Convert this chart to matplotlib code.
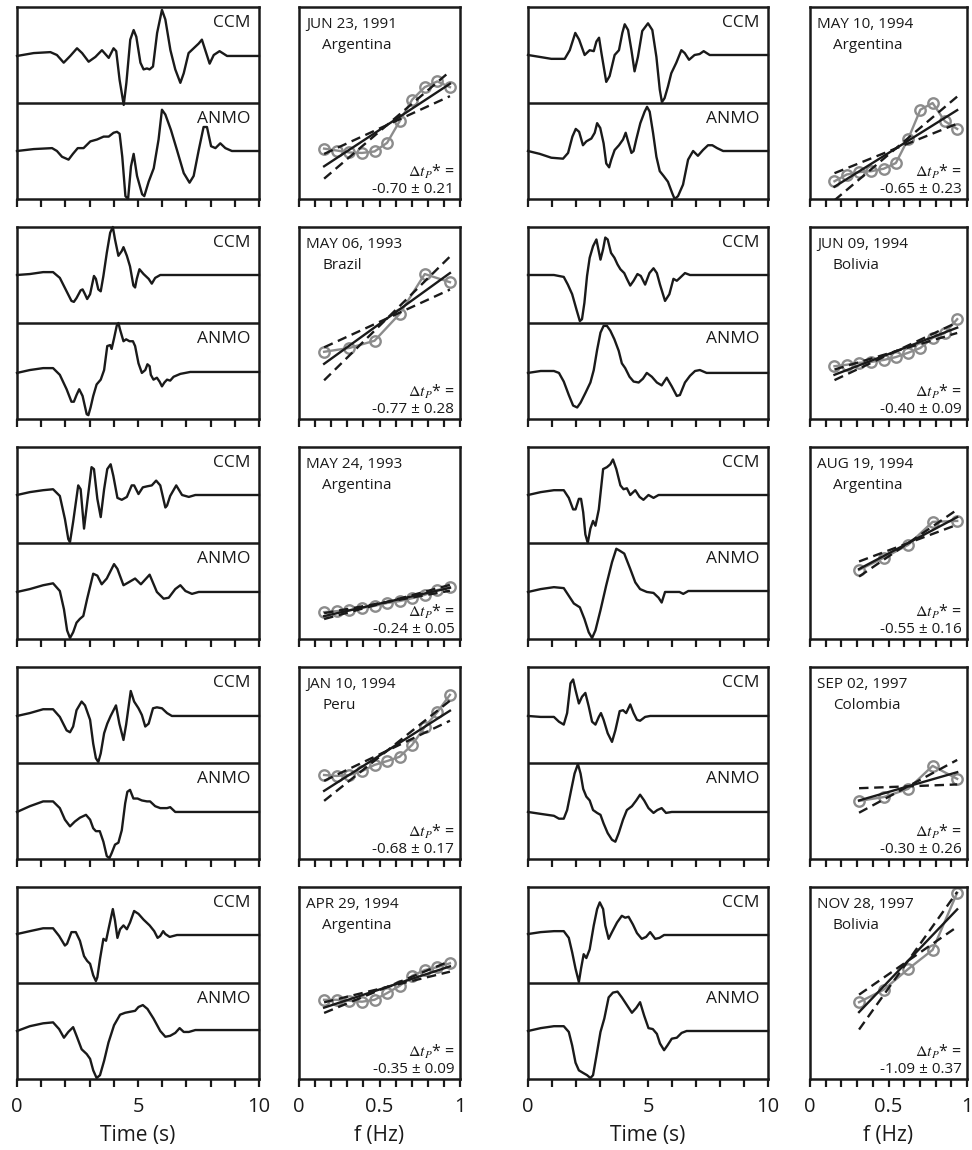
import matplotlib
matplotlib.use('Agg')
import matplotlib.pyplot as plt
import numpy as np

plt.rcParams['font.family'] = ['Open Sans', 'DejaVu Sans']
plt.rcParams['mathtext.fontset'] = 'stix'

# ---- event labels (left column top->bottom, then right column) ----
dates = ['JUN 23, 1991', 'MAY 06, 1993', 'MAY 24, 1993', 'JAN 10, 1994', 'APR 29, 1994',
         'MAY 10, 1994', 'JUN 09, 1994', 'AUG 19, 1994', 'SEP 02, 1997', 'NOV 28, 1997']
regions = ['Argentina', 'Brazil', 'Argentina', 'Peru', 'Argentina',
           'Argentina', 'Bolivia', 'Argentina', 'Colombia', 'Bolivia']
dtp = [-0.70, -0.77, -0.24, -0.68, -0.35, -0.65, -0.40, -0.55, -0.30, -1.09]
dtp_err = [0.21, 0.28, 0.05, 0.17, 0.09, 0.23, 0.09, 0.16, 0.26, 0.37]

# ---- waveforms (time in s, normalised amplitude 0..1 inside each half) ----
ccm_t_1 = [0, 0.69, 1.38, 1.65, 1.93, 2.2, 2.48, 2.69, 2.96, 3.24, 3.51, 3.79, 3.99, 4.1, 4.24, 4.41, 4.52, 4.68, 4.82, 4.93, 5.1, 5.23, 5.37, 5.48, 5.62, 5.79, 5.99, 6.13, 6.34, 6.54, 6.75, 6.89, 7.09, 7.3, 7.51, 7.64, 7.78, 7.96, 8.13, 8.37, 8.68, 10]
ccm_a_1 = [0.49, 0.52, 0.53, 0.5, 0.42, 0.49, 0.57, 0.52, 0.43, 0.48, 0.55, 0.47, 0.57, 0.54, 0.24, -0.02, 0.21, 0.66, 0.76, 0.69, 0.42, 0.35, 0.36, 0.35, 0.38, 0.73, 0.97, 0.87, 0.55, 0.35, 0.21, 0.31, 0.52, 0.57, 0.62, 0.66, 0.55, 0.41, 0.5, 0.54, 0.49, 0.49]
anmo_t_1 = [0, 0.69, 1.45, 1.65, 1.86, 2.13, 2.31, 2.51, 2.75, 3.03, 3.31, 3.58, 3.79, 3.99, 4.13, 4.24, 4.35, 4.48, 4.59, 4.71, 4.82, 4.96, 5.17, 5.26, 5.44, 5.65, 5.85, 5.99, 6.13, 6.36, 6.61, 6.89, 7.13, 7.3, 7.51, 7.71, 7.85, 8.02, 8.2, 8.4, 8.61, 8.88, 10]
anmo_a_1 = [0.5, 0.52, 0.53, 0.5, 0.44, 0.41, 0.47, 0.53, 0.53, 0.6, 0.62, 0.65, 0.65, 0.69, 0.7, 0.68, 0.44, 0.03, 0.0, 0.34, 0.47, 0.24, 0.05, 0.03, 0.18, 0.32, 0.62, 0.93, 0.88, 0.72, 0.51, 0.27, 0.17, 0.24, 0.51, 0.75, 0.75, 0.55, 0.53, 0.58, 0.53, 0.5, 0.5]

ccm_t_2 = [0, 0.53, 1.08, 1.49, 1.77, 2.05, 2.25, 2.35, 2.46, 2.63, 2.71, 2.81, 2.9, 3.02, 3.18, 3.26, 3.36, 3.46, 3.57, 3.71, 3.85, 3.96, 4.05, 4.19, 4.33, 4.4, 4.54, 4.67, 4.81, 4.88, 4.95, 5.06, 5.23, 5.44, 5.57, 5.71, 5.92, 10]
ccm_a_2 = [0.5, 0.51, 0.53, 0.53, 0.47, 0.33, 0.23, 0.22, 0.26, 0.34, 0.35, 0.3, 0.25, 0.3, 0.49, 0.46, 0.35, 0.33, 0.49, 0.73, 0.94, 1.0, 0.87, 0.7, 0.75, 0.79, 0.7, 0.59, 0.39, 0.37, 0.46, 0.56, 0.51, 0.46, 0.41, 0.47, 0.5, 0.5]
anmo_t_2 = [0, 0.53, 1.08, 1.49, 1.77, 2.05, 2.25, 2.35, 2.46, 2.57, 2.71, 2.88, 2.95, 3.04, 3.15, 3.29, 3.46, 3.6, 3.73, 3.85, 3.91, 4.01, 4.12, 4.19, 4.26, 4.4, 4.51, 4.65, 4.79, 4.88, 5.02, 5.16, 5.3, 5.39, 5.48, 5.53, 5.64, 5.78, 5.89, 5.99, 6.09, 6.2, 6.33, 6.47, 6.75, 7.16, 10]
anmo_a_2 = [0.48, 0.51, 0.53, 0.53, 0.46, 0.31, 0.18, 0.18, 0.25, 0.31, 0.24, 0.05, 0.04, 0.12, 0.24, 0.36, 0.41, 0.51, 0.76, 0.77, 0.73, 0.84, 0.97, 1.0, 0.93, 0.81, 0.83, 0.81, 0.81, 0.76, 0.58, 0.48, 0.51, 0.57, 0.55, 0.46, 0.41, 0.43, 0.39, 0.34, 0.38, 0.41, 0.4, 0.44, 0.47, 0.49, 0.49]

ccm_t_3 = [0, 0.53, 1.08, 1.49, 1.77, 1.98, 2.12, 2.19, 2.32, 2.53, 2.63, 2.77, 2.9, 3.08, 3.18, 3.32, 3.46, 3.6, 3.73, 3.87, 3.98, 4.15, 4.33, 4.54, 4.74, 4.84, 5.02, 5.2, 5.37, 5.57, 5.75, 5.92, 6.13, 6.2, 6.33, 6.58, 6.82, 7.1, 7.37, 10]
ccm_a_3 = [0.5, 0.53, 0.55, 0.56, 0.49, 0.25, 0.04, 0.01, 0.22, 0.6, 0.56, 0.15, 0.42, 0.79, 0.77, 0.46, 0.27, 0.56, 0.77, 0.82, 0.7, 0.47, 0.45, 0.48, 0.6, 0.6, 0.51, 0.58, 0.59, 0.6, 0.65, 0.6, 0.37, 0.39, 0.49, 0.6, 0.5, 0.48, 0.5, 0.5]
anmo_t_3 = [0, 0.53, 1.08, 1.49, 1.77, 1.94, 2.07, 2.19, 2.32, 2.46, 2.6, 2.74, 2.9, 3.15, 3.32, 3.5, 3.71, 4.01, 4.15, 4.4, 4.61, 4.88, 5.12, 5.48, 5.78, 6.06, 6.27, 6.54, 6.75, 6.96, 7.23, 7.51, 10]
anmo_a_3 = [0.49, 0.52, 0.56, 0.58, 0.5, 0.31, 0.09, 0.01, 0.07, 0.17, 0.21, 0.24, 0.42, 0.68, 0.66, 0.57, 0.63, 0.78, 0.73, 0.56, 0.59, 0.63, 0.57, 0.67, 0.49, 0.42, 0.43, 0.52, 0.56, 0.5, 0.47, 0.49, 0.49]

ccm_t_4 = [0, 0.53, 1.08, 1.49, 1.77, 2.05, 2.19, 2.32, 2.46, 2.67, 2.81, 3.02, 3.15, 3.26, 3.36, 3.46, 3.6, 3.73, 3.87, 4.09, 4.23, 4.4, 4.51, 4.7, 4.84, 5.02, 5.16, 5.3, 5.44, 5.62, 5.78, 5.99, 6.2, 6.4, 10]
ccm_a_4 = [0.49, 0.52, 0.56, 0.56, 0.48, 0.34, 0.32, 0.38, 0.55, 0.64, 0.6, 0.45, 0.2, 0.05, 0.01, 0.1, 0.31, 0.41, 0.49, 0.6, 0.41, 0.24, 0.4, 0.75, 0.64, 0.57, 0.5, 0.38, 0.41, 0.57, 0.58, 0.57, 0.52, 0.49, 0.49]
anmo_t_4 = [0, 0.53, 1.08, 1.49, 1.77, 1.98, 2.19, 2.39, 2.6, 2.85, 3.02, 3.15, 3.26, 3.42, 3.57, 3.71, 3.82, 3.91, 4.05, 4.19, 4.33, 4.47, 4.56, 4.67, 4.81, 4.98, 5.16, 5.37, 5.5, 5.71, 5.92, 6.2, 6.33, 6.54, 10]
anmo_a_4 = [0.49, 0.55, 0.6, 0.6, 0.53, 0.41, 0.34, 0.39, 0.43, 0.46, 0.41, 0.32, 0.29, 0.29, 0.18, 0.03, 0.01, 0.06, 0.15, 0.17, 0.3, 0.58, 0.7, 0.72, 0.63, 0.63, 0.61, 0.6, 0.6, 0.55, 0.53, 0.53, 0.54, 0.49, 0.49]

ccm_t_5 = [0, 0.53, 1.08, 1.49, 1.74, 1.98, 2.07, 2.25, 2.43, 2.6, 2.77, 2.9, 3.02, 3.15, 3.26, 3.32, 3.43, 3.57, 3.68, 3.78, 3.96, 4.05, 4.15, 4.26, 4.4, 4.54, 4.67, 4.84, 5.02, 5.23, 5.48, 5.67, 5.81, 5.92, 6.04, 6.13, 6.31, 6.61, 10]
ccm_a_5 = [0.51, 0.54, 0.57, 0.57, 0.49, 0.39, 0.41, 0.53, 0.53, 0.44, 0.28, 0.23, 0.2, 0.08, 0.02, 0.06, 0.25, 0.46, 0.44, 0.56, 0.77, 0.65, 0.47, 0.56, 0.6, 0.56, 0.63, 0.75, 0.72, 0.66, 0.6, 0.54, 0.47, 0.49, 0.54, 0.51, 0.48, 0.5, 0.5]
anmo_t_5 = [0, 0.53, 1.08, 1.49, 1.74, 1.94, 2.12, 2.32, 2.46, 2.67, 2.88, 3.02, 3.15, 3.29, 3.43, 3.6, 3.78, 4.01, 4.26, 4.47, 4.67, 4.88, 5.02, 5.2, 5.39, 5.64, 5.92, 6.13, 6.33, 6.54, 6.72, 6.89, 7.1, 7.37, 10]
anmo_a_5 = [0.5, 0.55, 0.58, 0.59, 0.52, 0.43, 0.49, 0.54, 0.45, 0.31, 0.26, 0.21, 0.09, 0.01, 0.04, 0.19, 0.38, 0.56, 0.67, 0.69, 0.7, 0.71, 0.75, 0.77, 0.73, 0.63, 0.5, 0.44, 0.45, 0.48, 0.53, 0.49, 0.49, 0.51, 0.51]

ccm_t_6 = [0, 0.49, 0.97, 1.53, 1.74, 1.97, 2.13, 2.36, 2.57, 2.74, 2.85, 2.96, 3.06, 3.26, 3.4, 3.61, 3.79, 3.93, 4.03, 4.17, 4.31, 4.44, 4.58, 4.76, 5.0, 5.18, 5.35, 5.49, 5.58, 5.69, 5.83, 5.97, 6.18, 6.39, 6.53, 6.71, 6.94, 7.15, 7.32, 7.57, 10]
ccm_a_6 = [0.5, 0.48, 0.46, 0.46, 0.55, 0.73, 0.66, 0.5, 0.55, 0.54, 0.64, 0.68, 0.52, 0.22, 0.28, 0.5, 0.55, 0.73, 0.82, 0.76, 0.55, 0.33, 0.48, 0.75, 0.83, 0.76, 0.48, 0.14, 0.01, 0.05, 0.17, 0.31, 0.42, 0.55, 0.52, 0.45, 0.5, 0.51, 0.54, 0.5, 0.5]
anmo_t_6 = [0, 0.49, 0.97, 1.46, 1.67, 1.85, 1.99, 2.13, 2.29, 2.43, 2.64, 2.78, 2.88, 3.01, 3.15, 3.26, 3.38, 3.47, 3.61, 3.79, 3.96, 4.07, 4.17, 4.31, 4.4, 4.51, 4.68, 4.86, 4.96, 5.07, 5.21, 5.35, 5.49, 5.65, 5.83, 6.01, 6.11, 6.25, 6.46, 6.67, 6.88, 7.08, 7.29, 7.5, 7.68, 7.88, 8.13, 10]
anmo_a_6 = [0.5, 0.47, 0.43, 0.42, 0.48, 0.65, 0.73, 0.7, 0.56, 0.6, 0.63, 0.69, 0.79, 0.74, 0.58, 0.37, 0.33, 0.41, 0.51, 0.56, 0.62, 0.69, 0.6, 0.48, 0.5, 0.62, 0.79, 0.91, 0.96, 0.91, 0.69, 0.44, 0.29, 0.24, 0.18, 0.06, 0.0, 0.03, 0.15, 0.41, 0.5, 0.45, 0.51, 0.56, 0.56, 0.53, 0.5, 0.5]

ccm_t_7 = [0, 0.53, 1.08, 1.49, 1.66, 1.84, 2.02, 2.16, 2.25, 2.35, 2.46, 2.57, 2.71, 2.85, 3.02, 3.13, 3.22, 3.32, 3.46, 3.6, 3.73, 3.85, 4.01, 4.12, 4.26, 4.4, 4.56, 4.7, 4.88, 5.06, 5.23, 5.37, 5.5, 5.71, 5.89, 6.06, 6.2, 6.33, 6.54, 6.75, 10]
ccm_a_7 = [0.5, 0.5, 0.5, 0.48, 0.4, 0.3, 0.14, 0.02, 0.04, 0.21, 0.49, 0.68, 0.8, 0.87, 0.66, 0.77, 0.89, 0.87, 0.73, 0.68, 0.61, 0.56, 0.52, 0.46, 0.39, 0.44, 0.51, 0.49, 0.4, 0.52, 0.57, 0.52, 0.4, 0.23, 0.3, 0.46, 0.44, 0.47, 0.52, 0.5, 0.5]
anmo_t_7 = [0, 0.53, 1.08, 1.29, 1.49, 1.7, 1.88, 2.05, 2.19, 2.39, 2.6, 2.74, 2.88, 3.02, 3.15, 3.29, 3.43, 3.6, 3.78, 3.91, 4.05, 4.23, 4.4, 4.61, 4.79, 4.95, 5.16, 5.37, 5.57, 5.78, 5.99, 6.2, 6.33, 6.54, 6.75, 6.96, 7.16, 7.44, 10]
anmo_a_7 = [0.48, 0.5, 0.5, 0.48, 0.39, 0.25, 0.14, 0.12, 0.17, 0.27, 0.38, 0.51, 0.72, 0.9, 0.97, 0.97, 0.92, 0.83, 0.71, 0.58, 0.53, 0.44, 0.39, 0.38, 0.42, 0.48, 0.44, 0.38, 0.35, 0.43, 0.34, 0.24, 0.25, 0.38, 0.45, 0.5, 0.51, 0.48, 0.48]

ccm_t_8 = [0, 0.53, 1.08, 1.49, 1.7, 1.88, 1.98, 2.12, 2.21, 2.3, 2.39, 2.49, 2.6, 2.71, 2.81, 2.95, 3.13, 3.29, 3.43, 3.54, 3.68, 3.85, 3.98, 4.12, 4.26, 4.47, 4.65, 4.81, 5.02, 5.23, 5.44, 10]
ccm_a_8 = [0.5, 0.53, 0.55, 0.55, 0.47, 0.35, 0.35, 0.46, 0.46, 0.32, 0.09, 0.0, 0.15, 0.23, 0.18, 0.35, 0.77, 0.79, 0.82, 0.87, 0.77, 0.6, 0.56, 0.57, 0.5, 0.55, 0.48, 0.45, 0.5, 0.47, 0.5, 0.5]
anmo_t_8 = [0, 0.53, 1.08, 1.49, 1.7, 1.91, 2.16, 2.35, 2.53, 2.67, 2.81, 3.02, 3.26, 3.5, 3.68, 3.82, 4.01, 4.26, 4.47, 4.67, 4.95, 5.23, 5.44, 5.57, 5.71, 5.95, 6.13, 6.31, 6.47, 6.68, 10]
anmo_a_8 = [0.49, 0.52, 0.54, 0.53, 0.45, 0.37, 0.33, 0.21, 0.07, 0.01, 0.09, 0.3, 0.56, 0.8, 0.94, 0.92, 0.89, 0.73, 0.59, 0.52, 0.49, 0.48, 0.43, 0.38, 0.49, 0.49, 0.49, 0.49, 0.47, 0.5, 0.5]

ccm_t_9 = [0, 0.53, 1.08, 1.29, 1.49, 1.63, 1.77, 1.88, 1.98, 2.12, 2.25, 2.39, 2.53, 2.67, 2.81, 2.95, 3.04, 3.15, 3.32, 3.5, 3.64, 3.82, 3.96, 4.09, 4.26, 4.4, 4.54, 4.67, 4.88, 5.09, 10]
ccm_a_9 = [0.49, 0.48, 0.48, 0.43, 0.4, 0.52, 0.83, 0.87, 0.76, 0.62, 0.69, 0.73, 0.59, 0.43, 0.4, 0.48, 0.52, 0.45, 0.31, 0.22, 0.34, 0.54, 0.55, 0.52, 0.61, 0.52, 0.45, 0.44, 0.48, 0.49, 0.49]
anmo_t_9 = [0, 0.53, 1.08, 1.29, 1.49, 1.63, 1.8, 1.94, 2.08, 2.19, 2.3, 2.43, 2.57, 2.71, 2.88, 3.02, 3.15, 3.32, 3.5, 3.64, 3.78, 3.96, 4.12, 4.33, 4.51, 4.67, 4.84, 5.02, 5.23, 5.39, 5.57, 5.75, 5.99, 10]
anmo_a_9 = [0.49, 0.47, 0.45, 0.42, 0.42, 0.51, 0.72, 0.89, 0.99, 0.89, 0.73, 0.65, 0.61, 0.51, 0.48, 0.46, 0.37, 0.27, 0.2, 0.18, 0.27, 0.41, 0.51, 0.55, 0.61, 0.67, 0.61, 0.53, 0.48, 0.51, 0.53, 0.48, 0.49, 0.49]

ccm_t_10 = [0, 0.53, 1.08, 1.49, 1.7, 1.84, 1.98, 2.12, 2.21, 2.32, 2.43, 2.57, 2.74, 2.88, 2.99, 3.13, 3.22, 3.36, 3.5, 3.71, 3.91, 4.05, 4.19, 4.37, 4.54, 4.74, 4.92, 5.09, 5.3, 5.48, 5.67, 5.92, 10]
ccm_a_10 = [0.51, 0.53, 0.54, 0.54, 0.47, 0.32, 0.15, 0.01, 0.15, 0.3, 0.26, 0.35, 0.6, 0.77, 0.84, 0.77, 0.6, 0.46, 0.53, 0.63, 0.7, 0.68, 0.69, 0.61, 0.52, 0.46, 0.48, 0.53, 0.46, 0.47, 0.5, 0.5, 0.5]
anmo_t_10 = [0, 0.53, 1.08, 1.49, 1.7, 1.84, 1.98, 2.12, 2.32, 2.46, 2.6, 2.71, 2.85, 3.02, 3.18, 3.36, 3.54, 3.73, 3.91, 4.12, 4.33, 4.51, 4.67, 4.84, 5.02, 5.2, 5.37, 5.5, 5.67, 5.81, 5.99, 6.2, 6.4, 6.61, 10]
anmo_a_10 = [0.5, 0.53, 0.55, 0.55, 0.49, 0.35, 0.17, 0.09, 0.06, 0.04, 0.01, 0.04, 0.24, 0.49, 0.63, 0.85, 0.9, 0.91, 0.85, 0.77, 0.69, 0.74, 0.8, 0.66, 0.53, 0.52, 0.47, 0.37, 0.3, 0.35, 0.42, 0.43, 0.48, 0.5, 0.5]

# ---- spectral ratios (frequency in Hz, ln amplitude ratio, arbitrary offset) ----
freq_1 = [0.156, 0.234, 0.3125, 0.391, 0.469, 0.547, 0.625, 0.703, 0.781, 0.859, 0.9375]
ratio_1 = [1.05, 1.01, 0.97, 0.96, 0.99, 1.17, 1.62, 2.07, 2.33, 2.45, 2.33]
freq_2 = [0.156, 0.3125, 0.469, 0.625, 0.781, 0.9375]
ratio_2 = [1.40, 1.48, 1.63, 2.19, 3.02, 2.85]
freq_3 = [0.156, 0.234, 0.3125, 0.391, 0.469, 0.547, 0.625, 0.703, 0.781, 0.859, 0.9375]
ratio_3 = [0.56, 0.58, 0.60, 0.65, 0.69, 0.75, 0.79, 0.85, 0.92, 1.02, 1.08]
freq_4 = [0.156, 0.234, 0.3125, 0.391, 0.469, 0.547, 0.625, 0.703, 0.781, 0.859, 0.9375]
ratio_4 = [1.75, 1.73, 1.75, 1.83, 1.96, 2.04, 2.13, 2.38, 2.75, 3.06, 3.42]
freq_5 = [0.156, 0.234, 0.3125, 0.391, 0.469, 0.547, 0.625, 0.703, 0.781, 0.859, 0.9375]
ratio_5 = [1.65, 1.65, 1.63, 1.61, 1.65, 1.79, 1.94, 2.15, 2.27, 2.33, 2.41]
freq_6 = [0.156, 0.234, 0.3125, 0.391, 0.469, 0.547, 0.625, 0.703, 0.781, 0.859, 0.9375]
ratio_6 = [0.37, 0.51, 0.56, 0.58, 0.63, 0.75, 1.25, 1.86, 2.00, 1.62, 1.46]
freq_7 = [0.156, 0.234, 0.3125, 0.391, 0.469, 0.547, 0.625, 0.703, 0.781, 0.859, 0.9375]
ratio_7 = [1.10, 1.13, 1.17, 1.19, 1.23, 1.29, 1.38, 1.48, 1.69, 1.79, 2.08]
freq_8 = [0.3125, 0.469, 0.625, 0.781, 0.9375]
ratio_8 = [1.44, 1.69, 1.96, 2.44, 2.46]
freq_9 = [0.3125, 0.469, 0.625, 0.781, 0.9375]
ratio_9 = [1.21, 1.29, 1.46, 1.94, 1.67]
freq_10 = [0.3125, 0.469, 0.625, 0.781, 0.9375]
ratio_10 = [1.60, 1.86, 2.29, 2.69, 3.88]

ccm_t = [ccm_t_1, ccm_t_2, ccm_t_3, ccm_t_4, ccm_t_5, ccm_t_6, ccm_t_7, ccm_t_8, ccm_t_9, ccm_t_10]
ccm_a = [ccm_a_1, ccm_a_2, ccm_a_3, ccm_a_4, ccm_a_5, ccm_a_6, ccm_a_7, ccm_a_8, ccm_a_9, ccm_a_10]
anmo_t = [anmo_t_1, anmo_t_2, anmo_t_3, anmo_t_4, anmo_t_5, anmo_t_6, anmo_t_7, anmo_t_8, anmo_t_9, anmo_t_10]
anmo_a = [anmo_a_1, anmo_a_2, anmo_a_3, anmo_a_4, anmo_a_5, anmo_a_6, anmo_a_7, anmo_a_8, anmo_a_9, anmo_a_10]
freqs = [freq_1, freq_2, freq_3, freq_4, freq_5, freq_6, freq_7, freq_8, freq_9, freq_10]
ratios = [ratio_1, ratio_2, ratio_3, ratio_4, ratio_5, ratio_6, ratio_7, ratio_8, ratio_9, ratio_10]

INK = '#1a1a1a'
GREY = '#8c8c8c'
W, H = 972.0, 1150.0

fig = plt.figure(figsize=(9.72, 11.5), dpi=100)


def px_axes(x0, y0, w, h):
    # position given in pixels from the top-left corner
    return fig.add_axes([x0 / W, 1 - (y0 + h) / H, w / W, h / H])


def style_box(ax):
    for s in ax.spines.values():
        s.set_linewidth(1.8)
        s.set_color(INK)
    ax.set_yticks([])
    ax.tick_params(axis='x', direction='out', length=6, width=1.6, color=INK,
                   labelsize=14.5, pad=7, labelcolor=INK)


def draw_wave(ax, i, bottom):
    ax.plot(ccm_t[i], 1 + np.array(ccm_a[i]), color=INK, lw=1.7, clip_on=False, zorder=3)
    ax.plot(anmo_t[i], anmo_a[i], color=INK, lw=1.7, clip_on=False, zorder=3)
    ax.axhline(1, color=INK, lw=1.8, zorder=2)
    ax.set_xlim(0, 10)
    ax.set_ylim(0, 2)
    style_box(ax)
    ax.set_xticks(np.arange(0, 11, 1))
    ax.text(0.965, 0.958, 'CCM', transform=ax.transAxes, ha='right', va='top',
            fontsize=12.5, color=INK)
    ax.text(0.965, 0.458, 'ANMO', transform=ax.transAxes, ha='right', va='top',
            fontsize=12.5, color=INK)
    if bottom:
        ax.set_xticklabels(['0', '', '', '', '', '5', '', '', '', '', '10'])
        ax.set_xlabel('Time (s)', fontsize=15, labelpad=6, color=INK)
    else:
        ax.set_xticklabels([])


def draw_ratio(ax, i, bottom):
    f = np.array(freqs[i])
    r = np.array(ratios[i])
    ax.plot(f, r, color=GREY, lw=1.7, marker='o', ms=7.5, mfc='none', mew=1.7, zorder=2)
    f0, r0 = f.mean(), r.mean()
    fx = np.array([f[0], f[-1]])
    slope = -np.pi * dtp[i]
    ax.plot(fx, r0 + slope * (fx - f0), color=INK, lw=1.7, zorder=3)
    for s in (-np.pi * (dtp[i] - dtp_err[i]), -np.pi * (dtp[i] + dtp_err[i])):
        ax.plot(fx, r0 + s * (fx - f0), color=INK, lw=1.7, ls=(0, (4.0, 2.4)), zorder=3)
    ax.set_xlim(0, 1)
    ax.set_ylim(0, 4)
    style_box(ax)
    ax.set_xticks(np.arange(0, 1.01, 0.1))
    ax.text(0.045, 0.95, dates[i], transform=ax.transAxes, ha='left', va='top',
            fontsize=11, color=INK)
    ax.text(0.145, 0.84, regions[i], transform=ax.transAxes, ha='left', va='top',
            fontsize=11, color=INK)
    ax.text(0.965, 0.14, r'$\Delta t_P$* =', transform=ax.transAxes, ha='right',
            va='center', fontsize=11.5, color=INK)
    ax.text(0.965, 0.012, '%.2f \u00b1 %.2f' % (dtp[i], dtp_err[i]), transform=ax.transAxes,
            ha='right', va='bottom', fontsize=11, color=INK)
    if bottom:
        labels = [''] * 11
        labels[0], labels[5], labels[10] = '0', '0.5', '1'
        ax.set_xticklabels(labels)
        ax.set_xlabel('f (Hz)', fontsize=15, labelpad=6, color=INK)
    else:
        ax.set_xticklabels([])


columns = [(17, 242, 299, 161), (528, 240, 810, 157)]
panel_h = 192
for c, (wx, ww, sx, sw) in enumerate(columns):
    for row in range(5):
        i = c * 5 + row
        top = 7 + 220 * row
        draw_wave(px_axes(wx, top, ww, panel_h), i, row == 4)
        draw_ratio(px_axes(sx, top, sw, panel_h), i, row == 4)

fig.savefig('out.png', dpi=100)
